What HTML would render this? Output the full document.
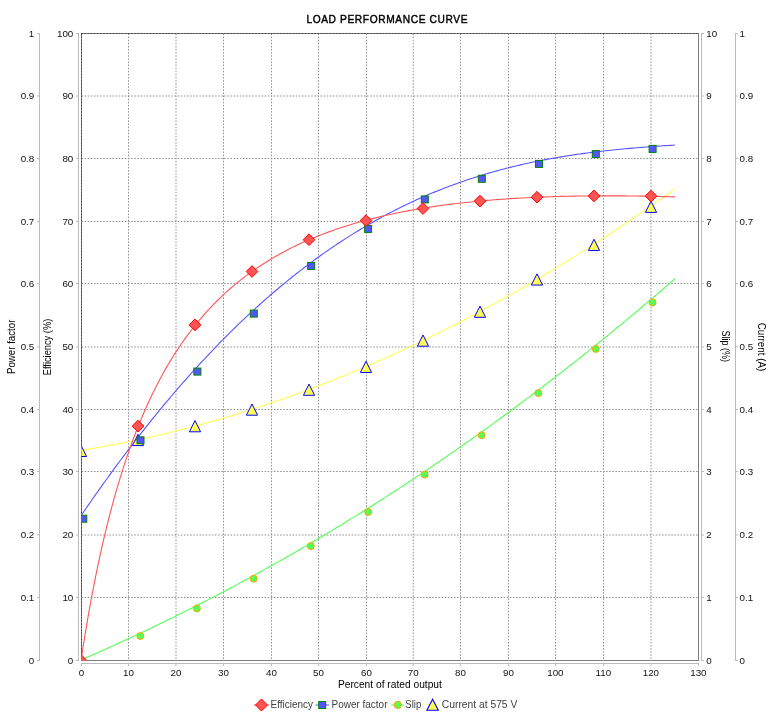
<!DOCTYPE html><html><head><meta charset="utf-8"><style>html,body{margin:0;padding:0;background:#fff;}svg{display:block;will-change:transform}</style></head><body>
<svg width="774" height="720" viewBox="0 0 774 720">
<rect width="774" height="720" fill="#fff"/>
<text transform="translate(306.4,22.9) scale(0.88,1)" x="0" y="0" font-family="Liberation Sans, sans-serif" font-weight="normal" font-size="11.6" textLength="183" lengthAdjust="spacing" fill="#000" stroke="#000" stroke-width="0.45">LOAD PERFORMANCE CURVE</text>
<rect x="81.5" y="33.5" width="617.0" height="627.0" fill="none" stroke="#808080" stroke-width="1"/>
<g stroke="#909090" stroke-width="1" stroke-dasharray="1.552 1.552"><line x1="128.50" y1="33.5" x2="128.50" y2="660.5"/><line x1="176.00" y1="33.5" x2="176.00" y2="660.5"/><line x1="223.50" y1="33.5" x2="223.50" y2="660.5"/><line x1="271.50" y1="33.5" x2="271.50" y2="660.5"/><line x1="318.50" y1="33.5" x2="318.50" y2="660.5"/><line x1="366.50" y1="33.5" x2="366.50" y2="660.5"/><line x1="413.25" y1="33.5" x2="413.25" y2="660.5"/><line x1="460.50" y1="33.5" x2="460.50" y2="660.5"/><line x1="508.50" y1="33.5" x2="508.50" y2="660.5"/><line x1="555.50" y1="33.5" x2="555.50" y2="660.5"/><line x1="603.50" y1="33.5" x2="603.50" y2="660.5"/><line x1="651.00" y1="33.5" x2="651.00" y2="660.5"/><line x1="81.5" y1="597.50" x2="698.5" y2="597.50"/><line x1="81.5" y1="535.00" x2="698.5" y2="535.00"/><line x1="81.5" y1="471.50" x2="698.5" y2="471.50"/><line x1="81.5" y1="409.50" x2="698.5" y2="409.50"/><line x1="81.5" y1="347.00" x2="698.5" y2="347.00"/><line x1="81.5" y1="283.50" x2="698.5" y2="283.50"/><line x1="81.5" y1="221.50" x2="698.5" y2="221.50"/><line x1="81.5" y1="158.50" x2="698.5" y2="158.50"/><line x1="81.5" y1="96.00" x2="698.5" y2="96.00"/></g>
<g stroke="#444" stroke-width="1" stroke-dasharray="1.552 1.552"><line x1="81.5" y1="33.5" x2="81.5" y2="660.5"/><line x1="81.5" y1="33.5" x2="698.5" y2="33.5"/></g>
<g stroke="#bbb" stroke-width="1"><line x1="39.5" y1="33" x2="39.5" y2="661"/><line x1="78.5" y1="33" x2="78.5" y2="661"/><line x1="701.5" y1="33" x2="701.5" y2="661"/><line x1="735.5" y1="33" x2="735.5" y2="661"/><line x1="81" y1="663.5" x2="699" y2="663.5"/><line x1="37" y1="660.50" x2="39.5" y2="660.50"/><line x1="76" y1="660.50" x2="78.5" y2="660.50"/><line x1="701.5" y1="660.50" x2="704" y2="660.50"/><line x1="735.5" y1="660.50" x2="738" y2="660.50"/><line x1="37" y1="597.50" x2="39.5" y2="597.50"/><line x1="76" y1="597.50" x2="78.5" y2="597.50"/><line x1="701.5" y1="597.50" x2="704" y2="597.50"/><line x1="735.5" y1="597.50" x2="738" y2="597.50"/><line x1="37" y1="535.00" x2="39.5" y2="535.00"/><line x1="76" y1="535.00" x2="78.5" y2="535.00"/><line x1="701.5" y1="535.00" x2="704" y2="535.00"/><line x1="735.5" y1="535.00" x2="738" y2="535.00"/><line x1="37" y1="471.50" x2="39.5" y2="471.50"/><line x1="76" y1="471.50" x2="78.5" y2="471.50"/><line x1="701.5" y1="471.50" x2="704" y2="471.50"/><line x1="735.5" y1="471.50" x2="738" y2="471.50"/><line x1="37" y1="409.50" x2="39.5" y2="409.50"/><line x1="76" y1="409.50" x2="78.5" y2="409.50"/><line x1="701.5" y1="409.50" x2="704" y2="409.50"/><line x1="735.5" y1="409.50" x2="738" y2="409.50"/><line x1="37" y1="347.00" x2="39.5" y2="347.00"/><line x1="76" y1="347.00" x2="78.5" y2="347.00"/><line x1="701.5" y1="347.00" x2="704" y2="347.00"/><line x1="735.5" y1="347.00" x2="738" y2="347.00"/><line x1="37" y1="283.50" x2="39.5" y2="283.50"/><line x1="76" y1="283.50" x2="78.5" y2="283.50"/><line x1="701.5" y1="283.50" x2="704" y2="283.50"/><line x1="735.5" y1="283.50" x2="738" y2="283.50"/><line x1="37" y1="221.50" x2="39.5" y2="221.50"/><line x1="76" y1="221.50" x2="78.5" y2="221.50"/><line x1="701.5" y1="221.50" x2="704" y2="221.50"/><line x1="735.5" y1="221.50" x2="738" y2="221.50"/><line x1="37" y1="158.50" x2="39.5" y2="158.50"/><line x1="76" y1="158.50" x2="78.5" y2="158.50"/><line x1="701.5" y1="158.50" x2="704" y2="158.50"/><line x1="735.5" y1="158.50" x2="738" y2="158.50"/><line x1="37" y1="96.00" x2="39.5" y2="96.00"/><line x1="76" y1="96.00" x2="78.5" y2="96.00"/><line x1="701.5" y1="96.00" x2="704" y2="96.00"/><line x1="735.5" y1="96.00" x2="738" y2="96.00"/><line x1="37" y1="33.50" x2="39.5" y2="33.50"/><line x1="76" y1="33.50" x2="78.5" y2="33.50"/><line x1="701.5" y1="33.50" x2="704" y2="33.50"/><line x1="735.5" y1="33.50" x2="738" y2="33.50"/><line x1="81.50" y1="663.5" x2="81.50" y2="666"/><line x1="128.50" y1="663.5" x2="128.50" y2="666"/><line x1="176.00" y1="663.5" x2="176.00" y2="666"/><line x1="223.50" y1="663.5" x2="223.50" y2="666"/><line x1="271.50" y1="663.5" x2="271.50" y2="666"/><line x1="318.50" y1="663.5" x2="318.50" y2="666"/><line x1="366.50" y1="663.5" x2="366.50" y2="666"/><line x1="413.25" y1="663.5" x2="413.25" y2="666"/><line x1="460.50" y1="663.5" x2="460.50" y2="666"/><line x1="508.50" y1="663.5" x2="508.50" y2="666"/><line x1="555.50" y1="663.5" x2="555.50" y2="666"/><line x1="603.50" y1="663.5" x2="603.50" y2="666"/><line x1="651.00" y1="663.5" x2="651.00" y2="666"/><line x1="698.50" y1="663.5" x2="698.50" y2="666"/></g>
<g font-family="Liberation Sans, sans-serif" font-size="9.8" fill="#111"><text x="34.3" y="663.80" text-anchor="end">0</text><text x="73.3" y="663.80" text-anchor="end">0</text><text x="706.3" y="663.80">0</text><text x="739.6" y="663.80">0</text><text x="34.3" y="600.80" text-anchor="end">0.1</text><text x="73.3" y="600.80" text-anchor="end">10</text><text x="706.3" y="600.80">1</text><text x="739.6" y="600.80">0.1</text><text x="34.3" y="538.30" text-anchor="end">0.2</text><text x="73.3" y="538.30" text-anchor="end">20</text><text x="706.3" y="538.30">2</text><text x="739.6" y="538.30">0.2</text><text x="34.3" y="474.80" text-anchor="end">0.3</text><text x="73.3" y="474.80" text-anchor="end">30</text><text x="706.3" y="474.80">3</text><text x="739.6" y="474.80">0.3</text><text x="34.3" y="412.80" text-anchor="end">0.4</text><text x="73.3" y="412.80" text-anchor="end">40</text><text x="706.3" y="412.80">4</text><text x="739.6" y="412.80">0.4</text><text x="34.3" y="350.30" text-anchor="end">0.5</text><text x="73.3" y="350.30" text-anchor="end">50</text><text x="706.3" y="350.30">5</text><text x="739.6" y="350.30">0.5</text><text x="34.3" y="286.80" text-anchor="end">0.6</text><text x="73.3" y="286.80" text-anchor="end">60</text><text x="706.3" y="286.80">6</text><text x="739.6" y="286.80">0.6</text><text x="34.3" y="224.80" text-anchor="end">0.7</text><text x="73.3" y="224.80" text-anchor="end">70</text><text x="706.3" y="224.80">7</text><text x="739.6" y="224.80">0.7</text><text x="34.3" y="161.80" text-anchor="end">0.8</text><text x="73.3" y="161.80" text-anchor="end">80</text><text x="706.3" y="161.80">8</text><text x="739.6" y="161.80">0.8</text><text x="34.3" y="99.30" text-anchor="end">0.9</text><text x="73.3" y="99.30" text-anchor="end">90</text><text x="706.3" y="99.30">9</text><text x="739.6" y="99.30">0.9</text><text x="34.3" y="36.80" text-anchor="end">1</text><text x="73.3" y="36.80" text-anchor="end">100</text><text x="706.3" y="36.80">10</text><text x="739.6" y="36.80">1</text><text x="81.40" y="675.6" text-anchor="middle">0</text><text x="128.40" y="675.6" text-anchor="middle">10</text><text x="175.90" y="675.6" text-anchor="middle">20</text><text x="223.40" y="675.6" text-anchor="middle">30</text><text x="271.40" y="675.6" text-anchor="middle">40</text><text x="318.40" y="675.6" text-anchor="middle">50</text><text x="366.40" y="675.6" text-anchor="middle">60</text><text x="413.15" y="675.6" text-anchor="middle">70</text><text x="460.40" y="675.6" text-anchor="middle">80</text><text x="508.40" y="675.6" text-anchor="middle">90</text><text x="555.40" y="675.6" text-anchor="middle">100</text><text x="603.40" y="675.6" text-anchor="middle">110</text><text x="650.90" y="675.6" text-anchor="middle">120</text><text x="698.40" y="675.6" text-anchor="middle">130</text></g>
<text x="389.9" y="688" font-family="Liberation Sans, sans-serif" font-size="10" text-anchor="middle" textLength="104" lengthAdjust="spacingAndGlyphs" fill="#000">Percent of rated output</text>
<text transform="translate(15.4,346.8) rotate(-90)" font-family="Liberation Sans, sans-serif" font-size="10" text-anchor="middle" textLength="54.5" lengthAdjust="spacingAndGlyphs" fill="#000">Power factor</text>
<text transform="translate(51.2,347) rotate(-90)" font-family="Liberation Sans, sans-serif" font-size="10" text-anchor="middle" textLength="56.5" lengthAdjust="spacingAndGlyphs" fill="#000">Efficiency (%)</text>
<text transform="translate(722,346.2) rotate(90)" font-family="Liberation Sans, sans-serif" font-size="10" text-anchor="middle" textLength="31.5" lengthAdjust="spacingAndGlyphs" fill="#000">Slip (%)</text>
<text transform="translate(758,347) rotate(90)" font-family="Liberation Sans, sans-serif" font-size="10" text-anchor="middle" textLength="48.5" lengthAdjust="spacingAndGlyphs" fill="#000">Current (A)</text>
<defs><clipPath id="pc"><rect x="81.5" y="33.5" width="617" height="627"/></clipPath></defs>
<g clip-path="url(#pc)">
<polyline points="81.00,450.39 83.38,450.01 85.75,449.62 88.13,449.23 90.50,448.83 92.88,448.43 95.26,448.02 97.63,447.61 100.01,447.19 102.38,446.76 104.76,446.33 107.14,445.90 109.51,445.46 111.89,445.01 114.26,444.56 116.64,444.10 119.02,443.64 121.39,443.17 123.77,442.70 126.14,442.22 128.52,441.74 130.89,441.25 133.27,440.76 135.65,440.26 138.02,439.76 140.40,439.25 142.77,438.73 145.15,438.21 147.53,437.68 149.90,437.15 152.28,436.62 154.65,436.07 157.03,435.53 159.41,434.97 161.78,434.42 164.16,433.85 166.53,433.28 168.91,432.71 171.29,432.13 173.66,431.55 176.04,430.96 178.41,430.36 180.79,429.76 183.17,429.15 185.54,428.54 187.92,427.93 190.29,427.31 192.67,426.68 195.05,426.05 197.42,425.41 199.80,424.76 202.17,424.12 204.55,423.46 206.93,422.80 209.30,422.14 211.68,421.47 214.05,420.79 216.43,420.11 218.81,419.43 221.18,418.73 223.56,418.04 225.93,417.34 228.31,416.63 230.68,415.92 233.06,415.20 235.44,414.47 237.81,413.75 240.19,413.01 242.56,412.27 244.94,411.53 247.32,410.78 249.69,410.02 252.07,409.26 254.44,408.50 256.82,407.73 259.20,406.95 261.57,406.17 263.95,405.38 266.32,404.59 268.70,403.79 271.08,402.99 273.45,402.18 275.83,401.36 278.20,400.54 280.58,399.72 282.96,398.89 285.33,398.05 287.71,397.21 290.08,396.37 292.46,395.52 294.84,394.66 297.21,393.80 299.59,392.93 301.96,392.06 304.34,391.18 306.72,390.29 309.09,389.41 311.47,388.51 313.84,387.61 316.22,386.71 318.59,385.80 320.97,384.88 323.35,383.96 325.72,383.04 328.10,382.10 330.47,381.17 332.85,380.23 335.23,379.28 337.60,378.33 339.98,377.37 342.35,376.40 344.73,375.44 347.11,374.46 349.48,373.48 351.86,372.50 354.23,371.51 356.61,370.51 358.99,369.51 361.36,368.51 363.74,367.49 366.11,366.48 368.49,365.45 370.87,364.43 373.24,363.39 375.62,362.36 377.99,361.31 380.37,360.26 382.75,359.21 385.12,358.15 387.50,357.09 389.87,356.02 392.25,354.94 394.63,353.86 397.00,352.77 399.38,351.68 401.75,350.59 404.13,349.48 406.51,348.38 408.88,347.26 411.26,346.15 413.63,345.02 416.01,343.89 418.38,342.76 420.76,341.62 423.14,340.47 425.51,339.32 427.89,338.17 430.26,337.01 432.64,335.84 435.02,334.67 437.39,333.49 439.77,332.31 442.14,331.12 444.52,329.93 446.90,328.73 449.27,327.53 451.65,326.32 454.02,325.11 456.40,323.89 458.78,322.66 461.15,321.43 463.53,320.20 465.90,318.96 468.28,317.71 470.66,316.46 473.03,315.20 475.41,313.94 477.78,312.67 480.16,311.40 482.54,310.12 484.91,308.84 487.29,307.55 489.66,306.25 492.04,304.95 494.42,303.65 496.79,302.34 499.17,301.02 501.54,299.70 503.92,298.38 506.30,297.05 508.67,295.71 511.05,294.37 513.42,293.02 515.80,291.67 518.17,290.31 520.55,288.94 522.93,287.58 525.30,286.20 527.68,284.82 530.05,283.44 532.43,282.05 534.81,280.65 537.18,279.25 539.56,277.84 541.93,276.43 544.31,275.02 546.69,273.59 549.06,272.17 551.44,270.73 553.81,269.29 556.19,267.85 558.57,266.40 560.94,264.95 563.32,263.49 565.69,262.02 568.07,260.55 570.45,259.08 572.82,257.60 575.20,256.11 577.57,254.62 579.95,253.12 582.33,251.62 584.70,250.11 587.08,248.60 589.45,247.08 591.83,245.56 594.21,244.03 596.58,242.49 598.96,240.95 601.33,239.41 603.71,237.86 606.08,236.30 608.46,234.74 610.84,233.18 613.21,231.60 615.59,230.03 617.96,228.45 620.34,226.86 622.72,225.26 625.09,223.67 627.47,222.06 629.84,220.45 632.22,218.84 634.60,217.22 636.97,215.59 639.35,213.96 641.72,212.33 644.10,210.69 646.48,209.04 648.85,207.39 651.23,205.73 653.60,204.07 655.98,202.40 658.36,200.73 660.73,199.05 663.11,197.37 665.48,195.68 667.86,193.98 670.24,192.29 672.61,190.58 674.99,188.87" fill="none" stroke="#ffff55" stroke-width="1.1"/>
<path d="M81.00,445.30L86.60,456.50L75.40,456.50Z" fill="#ffff55" stroke="#0000ff" stroke-width="1"/>
<path d="M138.00,434.40L143.60,445.60L132.40,445.60Z" fill="#ffff55" stroke="#0000ff" stroke-width="1"/>
<path d="M195.00,420.60L200.60,431.80L189.40,431.80Z" fill="#ffff55" stroke="#0000ff" stroke-width="1"/>
<path d="M252.00,404.00L257.60,415.20L246.40,415.20Z" fill="#ffff55" stroke="#0000ff" stroke-width="1"/>
<path d="M309.00,384.10L314.60,395.30L303.40,395.30Z" fill="#ffff55" stroke="#0000ff" stroke-width="1"/>
<path d="M366.00,361.25L371.60,372.45L360.40,372.45Z" fill="#ffff55" stroke="#0000ff" stroke-width="1"/>
<path d="M423.00,335.00L428.60,346.20L417.40,346.20Z" fill="#ffff55" stroke="#0000ff" stroke-width="1"/>
<path d="M480.00,306.10L485.60,317.30L474.40,317.30Z" fill="#ffff55" stroke="#0000ff" stroke-width="1"/>
<path d="M537.00,273.85L542.60,285.05L531.40,285.05Z" fill="#ffff55" stroke="#0000ff" stroke-width="1"/>
<path d="M594.00,239.25L599.60,250.45L588.40,250.45Z" fill="#ffff55" stroke="#0000ff" stroke-width="1"/>
<path d="M651.00,201.20L656.60,212.40L645.40,212.40Z" fill="#ffff55" stroke="#0000ff" stroke-width="1"/>
<polyline points="81.00,659.89 83.38,658.87 85.75,657.84 88.13,656.80 90.50,655.77 92.88,654.73 95.26,653.68 97.63,652.63 100.01,651.58 102.38,650.53 104.76,649.47 107.14,648.40 109.51,647.34 111.89,646.27 114.26,645.19 116.64,644.11 119.02,643.03 121.39,641.95 123.77,640.86 126.14,639.76 128.52,638.67 130.89,637.57 133.27,636.46 135.65,635.36 138.02,634.24 140.40,633.13 142.77,632.01 145.15,630.89 147.53,629.76 149.90,628.63 152.28,627.50 154.65,626.36 157.03,625.22 159.41,624.07 161.78,622.92 164.16,621.77 166.53,620.61 168.91,619.45 171.29,618.29 173.66,617.12 176.04,615.95 178.41,614.77 180.79,613.59 183.17,612.41 185.54,611.22 187.92,610.03 190.29,608.84 192.67,607.64 195.05,606.44 197.42,605.23 199.80,604.02 202.17,602.81 204.55,601.59 206.93,600.37 209.30,599.14 211.68,597.91 214.05,596.68 216.43,595.44 218.81,594.20 221.18,592.95 223.56,591.70 225.93,590.45 228.31,589.19 230.68,587.93 233.06,586.67 235.44,585.40 237.81,584.13 240.19,582.85 242.56,581.57 244.94,580.29 247.32,579.00 249.69,577.71 252.07,576.41 254.44,575.11 256.82,573.81 259.20,572.50 261.57,571.19 263.95,569.87 266.32,568.55 268.70,567.23 271.08,565.90 273.45,564.57 275.83,563.23 278.20,561.89 280.58,560.55 282.96,559.20 285.33,557.85 287.71,556.49 290.08,555.13 292.46,553.77 294.84,552.40 297.21,551.03 299.59,549.65 301.96,548.27 304.34,546.89 306.72,545.50 309.09,544.11 311.47,542.71 313.84,541.31 316.22,539.91 318.59,538.50 320.97,537.09 323.35,535.67 325.72,534.25 328.10,532.82 330.47,531.39 332.85,529.96 335.23,528.52 337.60,527.08 339.98,525.64 342.35,524.19 344.73,522.74 347.11,521.28 349.48,519.82 351.86,518.35 354.23,516.88 356.61,515.41 358.99,513.93 361.36,512.45 363.74,510.96 366.11,509.47 368.49,507.97 370.87,506.47 373.24,504.97 375.62,503.46 377.99,501.95 380.37,500.44 382.75,498.92 385.12,497.39 387.50,495.86 389.87,494.33 392.25,492.80 394.63,491.25 397.00,489.71 399.38,488.16 401.75,486.61 404.13,485.05 406.51,483.49 408.88,481.92 411.26,480.35 413.63,478.78 416.01,477.20 418.38,475.61 420.76,474.03 423.14,472.43 425.51,470.84 427.89,469.24 430.26,467.63 432.64,466.03 435.02,464.41 437.39,462.80 439.77,461.17 442.14,459.55 444.52,457.92 446.90,456.28 449.27,454.64 451.65,453.00 454.02,451.35 456.40,449.70 458.78,448.05 461.15,446.39 463.53,444.72 465.90,443.05 468.28,441.38 470.66,439.70 473.03,438.02 475.41,436.33 477.78,434.64 480.16,432.95 482.54,431.25 484.91,429.54 487.29,427.84 489.66,426.12 492.04,424.41 494.42,422.68 496.79,420.96 499.17,419.23 501.54,417.49 503.92,415.76 506.30,414.01 508.67,412.26 511.05,410.51 513.42,408.76 515.80,406.99 518.17,405.23 520.55,403.46 522.93,401.69 525.30,399.91 527.68,398.12 530.05,396.34 532.43,394.54 534.81,392.75 537.18,390.95 539.56,389.14 541.93,387.33 544.31,385.52 546.69,383.70 549.06,381.87 551.44,380.05 553.81,378.21 556.19,376.38 558.57,374.54 560.94,372.69 563.32,370.84 565.69,368.98 568.07,367.12 570.45,365.26 572.82,363.39 575.20,361.52 577.57,359.64 579.95,357.76 582.33,355.87 584.70,353.98 587.08,352.09 589.45,350.19 591.83,348.28 594.21,346.37 596.58,344.46 598.96,342.54 601.33,340.62 603.71,338.69 606.08,336.76 608.46,334.82 610.84,332.88 613.21,330.93 615.59,328.98 617.96,327.03 620.34,325.07 622.72,323.10 625.09,321.13 627.47,319.16 629.84,317.18 632.22,315.20 634.60,313.21 636.97,311.22 639.35,309.22 641.72,307.22 644.10,305.21 646.48,303.20 648.85,301.19 651.23,299.17 653.60,297.14 655.98,295.11 658.36,293.08 660.73,291.04 663.11,289.00 665.48,286.95 667.86,284.89 670.24,282.84 672.61,280.77 674.99,278.71" fill="none" stroke="#55ff55" stroke-width="1.1"/>
<circle cx="140.40" cy="636.00" r="3.5" fill="#55ff55" stroke="#ffa500" stroke-width="1"/>
<circle cx="196.90" cy="608.40" r="3.5" fill="#55ff55" stroke="#ffa500" stroke-width="1"/>
<circle cx="253.70" cy="578.70" r="3.5" fill="#55ff55" stroke="#ffa500" stroke-width="1"/>
<circle cx="310.80" cy="546.10" r="3.5" fill="#55ff55" stroke="#ffa500" stroke-width="1"/>
<circle cx="368.20" cy="512.00" r="3.5" fill="#55ff55" stroke="#ffa500" stroke-width="1"/>
<circle cx="424.70" cy="474.60" r="3.5" fill="#55ff55" stroke="#ffa500" stroke-width="1"/>
<circle cx="481.70" cy="435.20" r="3.5" fill="#55ff55" stroke="#ffa500" stroke-width="1"/>
<circle cx="538.40" cy="393.10" r="3.5" fill="#55ff55" stroke="#ffa500" stroke-width="1"/>
<circle cx="595.80" cy="348.90" r="3.5" fill="#55ff55" stroke="#ffa500" stroke-width="1"/>
<circle cx="652.60" cy="302.40" r="3.5" fill="#55ff55" stroke="#ffa500" stroke-width="1"/>
<polyline points="81.00,515.75 83.38,512.27 85.75,508.81 88.13,505.37 90.50,501.94 92.88,498.53 95.26,495.14 97.63,491.77 100.01,488.41 102.38,485.08 104.76,481.76 107.14,478.46 109.51,475.18 111.89,471.91 114.26,468.67 116.64,465.44 119.02,462.23 121.39,459.04 123.77,455.87 126.14,452.71 128.52,449.58 130.89,446.46 133.27,443.36 135.65,440.28 138.02,437.21 140.40,434.17 142.77,431.14 145.15,428.13 147.53,425.14 149.90,422.17 152.28,419.22 154.65,416.28 157.03,413.36 159.41,410.46 161.78,407.58 164.16,404.72 166.53,401.87 168.91,399.05 171.29,396.24 173.66,393.45 176.04,390.68 178.41,387.92 180.79,385.19 183.17,382.47 185.54,379.77 187.92,377.09 190.29,374.42 192.67,371.78 195.05,369.15 197.42,366.54 199.80,363.95 202.17,361.38 204.55,358.83 206.93,356.29 209.30,353.77 211.68,351.27 214.05,348.79 216.43,346.32 218.81,343.88 221.18,341.45 223.56,339.04 225.93,336.64 228.31,334.27 230.68,331.91 233.06,329.57 235.44,327.25 237.81,324.95 240.19,322.66 242.56,320.39 244.94,318.14 247.32,315.91 249.69,313.69 252.07,311.50 254.44,309.31 256.82,307.15 259.20,305.01 261.57,302.88 263.95,300.77 266.32,298.68 268.70,296.60 271.08,294.54 273.45,292.50 275.83,290.48 278.20,288.47 280.58,286.49 282.96,284.51 285.33,282.56 287.71,280.62 290.08,278.70 292.46,276.80 294.84,274.91 297.21,273.04 299.59,271.19 301.96,269.36 304.34,267.54 306.72,265.73 309.09,263.95 311.47,262.18 313.84,260.43 316.22,258.69 318.59,256.98 320.97,255.27 323.35,253.59 325.72,251.92 328.10,250.27 330.47,248.63 332.85,247.01 335.23,245.40 337.60,243.82 339.98,242.24 342.35,240.69 344.73,239.15 347.11,237.63 349.48,236.12 351.86,234.63 354.23,233.15 356.61,231.69 358.99,230.24 361.36,228.81 363.74,227.40 366.11,226.00 368.49,224.62 370.87,223.25 373.24,221.90 375.62,220.56 377.99,219.24 380.37,217.93 382.75,216.64 385.12,215.36 387.50,214.10 389.87,212.85 392.25,211.62 394.63,210.40 397.00,209.20 399.38,208.01 401.75,206.84 404.13,205.68 406.51,204.53 408.88,203.40 411.26,202.29 413.63,201.18 416.01,200.10 418.38,199.02 420.76,197.96 423.14,196.91 425.51,195.88 427.89,194.86 430.26,193.86 432.64,192.86 435.02,191.88 437.39,190.92 439.77,189.97 442.14,189.03 444.52,188.10 446.90,187.19 449.27,186.29 451.65,185.40 454.02,184.53 456.40,183.66 458.78,182.82 461.15,181.98 463.53,181.16 465.90,180.34 468.28,179.54 470.66,178.76 473.03,177.98 475.41,177.22 477.78,176.47 480.16,175.73 482.54,175.00 484.91,174.28 487.29,173.58 489.66,172.88 492.04,172.20 494.42,171.53 496.79,170.87 499.17,170.22 501.54,169.58 503.92,168.96 506.30,168.34 508.67,167.74 511.05,167.14 513.42,166.56 515.80,165.98 518.17,165.42 520.55,164.86 522.93,164.32 525.30,163.78 527.68,163.26 530.05,162.75 532.43,162.24 534.81,161.75 537.18,161.26 539.56,160.78 541.93,160.31 544.31,159.86 546.69,159.41 549.06,158.96 551.44,158.53 553.81,158.11 556.19,157.69 558.57,157.29 560.94,156.89 563.32,156.50 565.69,156.11 568.07,155.74 570.45,155.37 572.82,155.01 575.20,154.66 577.57,154.32 579.95,153.98 582.33,153.65 584.70,153.33 587.08,153.01 589.45,152.70 591.83,152.40 594.21,152.11 596.58,151.82 598.96,151.54 601.33,151.26 603.71,150.99 606.08,150.72 608.46,150.46 610.84,150.21 613.21,149.96 615.59,149.72 617.96,149.48 620.34,149.25 622.72,149.03 625.09,148.80 627.47,148.59 629.84,148.37 632.22,148.17 634.60,147.96 636.97,147.76 639.35,147.57 641.72,147.38 644.10,147.19 646.48,147.00 648.85,146.82 651.23,146.65 653.60,146.47 655.98,146.30 658.36,146.13 660.73,145.97 663.11,145.81 665.48,145.65 667.86,145.49 670.24,145.33 672.61,145.18 674.99,145.03" fill="none" stroke="#5555ff" stroke-width="1.1"/>
<rect x="79.80" y="515.20" width="7.00" height="7.00" fill="#5555ff" stroke="#008000" stroke-width="1"/>
<rect x="137.00" y="436.80" width="7.00" height="7.00" fill="#5555ff" stroke="#008000" stroke-width="1"/>
<rect x="193.90" y="368.10" width="7.00" height="7.00" fill="#5555ff" stroke="#008000" stroke-width="1"/>
<rect x="250.30" y="310.10" width="7.00" height="7.00" fill="#5555ff" stroke="#008000" stroke-width="1"/>
<rect x="307.70" y="262.50" width="7.00" height="7.00" fill="#5555ff" stroke="#008000" stroke-width="1"/>
<rect x="364.60" y="225.40" width="7.00" height="7.00" fill="#5555ff" stroke="#008000" stroke-width="1"/>
<rect x="421.30" y="195.90" width="7.00" height="7.00" fill="#5555ff" stroke="#008000" stroke-width="1"/>
<rect x="478.30" y="175.30" width="7.00" height="7.00" fill="#5555ff" stroke="#008000" stroke-width="1"/>
<rect x="535.50" y="160.40" width="7.00" height="7.00" fill="#5555ff" stroke="#008000" stroke-width="1"/>
<rect x="592.30" y="150.60" width="7.00" height="7.00" fill="#5555ff" stroke="#008000" stroke-width="1"/>
<rect x="649.10" y="145.40" width="7.00" height="7.00" fill="#5555ff" stroke="#008000" stroke-width="1"/>
<polyline points="81.00,660.50 83.38,645.09 85.75,630.42 88.13,616.46 90.50,603.15 92.88,590.45 95.26,578.31 97.63,566.71 100.01,555.61 102.38,544.97 104.76,534.78 107.14,525.00 109.51,515.61 111.89,506.59 114.26,497.91 116.64,489.57 119.02,481.54 121.39,473.80 123.77,466.34 126.14,459.15 128.52,452.21 130.89,445.51 133.27,439.04 135.65,432.79 138.02,426.74 140.40,420.89 142.77,415.23 145.15,409.75 147.53,404.44 149.90,399.30 152.28,394.31 154.65,389.48 157.03,384.79 159.41,380.24 161.78,375.82 164.16,371.53 166.53,367.36 168.91,363.31 171.29,359.38 173.66,355.55 176.04,351.83 178.41,348.21 180.79,344.69 183.17,341.26 185.54,337.92 187.92,334.67 190.29,331.51 192.67,328.42 195.05,325.42 197.42,322.49 199.80,319.63 202.17,316.85 204.55,314.13 206.93,311.48 209.30,308.90 211.68,306.38 214.05,303.91 216.43,301.51 218.81,299.16 221.18,296.87 223.56,294.63 225.93,292.45 228.31,290.31 230.68,288.22 233.06,286.18 235.44,284.19 237.81,282.24 240.19,280.33 242.56,278.47 244.94,276.65 247.32,274.87 249.69,273.12 252.07,271.42 254.44,269.75 256.82,268.12 259.20,266.52 261.57,264.96 263.95,263.42 266.32,261.93 268.70,260.46 271.08,259.03 273.45,257.62 275.83,256.24 278.20,254.90 280.58,253.58 282.96,252.28 285.33,251.02 287.71,249.78 290.08,248.56 292.46,247.37 294.84,246.20 297.21,245.06 299.59,243.94 301.96,242.85 304.34,241.77 306.72,240.72 309.09,239.69 311.47,238.67 313.84,237.68 316.22,236.71 318.59,235.76 320.97,234.82 323.35,233.91 325.72,233.01 328.10,232.13 330.47,231.27 332.85,230.43 335.23,229.60 337.60,228.79 339.98,227.99 342.35,227.21 344.73,226.44 347.11,225.69 349.48,224.96 351.86,224.24 354.23,223.53 356.61,222.84 358.99,222.16 361.36,221.50 363.74,220.84 366.11,220.20 368.49,219.58 370.87,218.96 373.24,218.36 375.62,217.77 377.99,217.19 380.37,216.62 382.75,216.07 385.12,215.52 387.50,214.99 389.87,214.47 392.25,213.96 394.63,213.45 397.00,212.96 399.38,212.48 401.75,212.01 404.13,211.55 406.51,211.09 408.88,210.65 411.26,210.22 413.63,209.79 416.01,209.38 418.38,208.97 420.76,208.57 423.14,208.18 425.51,207.80 427.89,207.42 430.26,207.06 432.64,206.70 435.02,206.35 437.39,206.01 439.77,205.67 442.14,205.34 444.52,205.02 446.90,204.71 449.27,204.41 451.65,204.11 454.02,203.81 456.40,203.53 458.78,203.25 461.15,202.98 463.53,202.71 465.90,202.45 468.28,202.20 470.66,201.96 473.03,201.72 475.41,201.48 477.78,201.25 480.16,201.03 482.54,200.81 484.91,200.60 487.29,200.40 489.66,200.20 492.04,200.00 494.42,199.81 496.79,199.63 499.17,199.45 501.54,199.28 503.92,199.11 506.30,198.94 508.67,198.79 511.05,198.63 513.42,198.48 515.80,198.34 518.17,198.20 520.55,198.06 522.93,197.93 525.30,197.81 527.68,197.69 530.05,197.57 532.43,197.46 534.81,197.35 537.18,197.24 539.56,197.14 541.93,197.05 544.31,196.96 546.69,196.87 549.06,196.78 551.44,196.70 553.81,196.63 556.19,196.55 558.57,196.49 560.94,196.42 563.32,196.36 565.69,196.30 568.07,196.25 570.45,196.20 572.82,196.15 575.20,196.11 577.57,196.07 579.95,196.03 582.33,196.00 584.70,195.96 587.08,195.94 589.45,195.91 591.83,195.89 594.21,195.88 596.58,195.86 598.96,195.85 601.33,195.84 603.71,195.84 606.08,195.83 608.46,195.83 610.84,195.84 613.21,195.84 615.59,195.85 617.96,195.86 620.34,195.88 622.72,195.89 625.09,195.91 627.47,195.94 629.84,195.96 632.22,195.99 634.60,196.02 636.97,196.05 639.35,196.09 641.72,196.13 644.10,196.17 646.48,196.21 648.85,196.25 651.23,196.30 653.60,196.35 655.98,196.40 658.36,196.46 660.73,196.52 663.11,196.58 665.48,196.64 667.86,196.70 670.24,196.77 672.61,196.83 674.99,196.90" fill="none" stroke="#ff5555" stroke-width="1.1"/>
<path d="M81.00,654.65L86.85,660.50L81.00,666.35L75.15,660.50Z" fill="#ff5555" stroke="#ff0000" stroke-width="1"/>
<path d="M138.00,420.25L143.85,426.10L138.00,431.95L132.15,426.10Z" fill="#ff5555" stroke="#ff0000" stroke-width="1"/>
<path d="M195.00,319.05L200.85,324.90L195.00,330.75L189.15,324.90Z" fill="#ff5555" stroke="#ff0000" stroke-width="1"/>
<path d="M252.00,265.65L257.85,271.50L252.00,277.35L246.15,271.50Z" fill="#ff5555" stroke="#ff0000" stroke-width="1"/>
<path d="M309.00,233.85L314.85,239.70L309.00,245.55L303.15,239.70Z" fill="#ff5555" stroke="#ff0000" stroke-width="1"/>
<path d="M366.00,214.75L371.85,220.60L366.00,226.45L360.15,220.60Z" fill="#ff5555" stroke="#ff0000" stroke-width="1"/>
<path d="M423.00,202.65L428.85,208.50L423.00,214.35L417.15,208.50Z" fill="#ff5555" stroke="#ff0000" stroke-width="1"/>
<path d="M480.00,195.25L485.85,201.10L480.00,206.95L474.15,201.10Z" fill="#ff5555" stroke="#ff0000" stroke-width="1"/>
<path d="M537.00,191.35L542.85,197.20L537.00,203.05L531.15,197.20Z" fill="#ff5555" stroke="#ff0000" stroke-width="1"/>
<path d="M594.00,190.05L599.85,195.90L594.00,201.75L588.15,195.90Z" fill="#ff5555" stroke="#ff0000" stroke-width="1"/>
<path d="M651.00,190.25L656.85,196.10L651.00,201.95L645.15,196.10Z" fill="#ff5555" stroke="#ff0000" stroke-width="1"/>
</g>
<line x1="254" y1="705" x2="269" y2="705" stroke="#ff5555" stroke-width="1"/><path d="M261.5,699L267.5,705L261.5,711L255.5,705Z" fill="#ff5555" stroke="#ff0000" stroke-width="1"/><text x="270.6" y="707.9" font-family="Liberation Sans, sans-serif" font-size="10" fill="#404040" textLength="42.5" lengthAdjust="spacingAndGlyphs">Efficiency</text><line x1="315.5" y1="705" x2="329" y2="705" stroke="#5555ff" stroke-width="1"/><rect x="318.7" y="701.5" width="7" height="7" fill="#5555ff" stroke="#008000" stroke-width="1"/><text x="331.5" y="707.9" font-family="Liberation Sans, sans-serif" font-size="10" fill="#404040" textLength="56" lengthAdjust="spacingAndGlyphs">Power factor</text><line x1="391" y1="705" x2="404" y2="705" stroke="#55ff55" stroke-width="1"/><circle cx="397.8" cy="704.9" r="3.6" fill="#55ff55" stroke="#ffa500" stroke-width="1"/><text x="405.3" y="707.9" font-family="Liberation Sans, sans-serif" font-size="10" fill="#404040" textLength="16" lengthAdjust="spacingAndGlyphs">Slip</text><line x1="426" y1="705" x2="439" y2="705" stroke="#ffff55" stroke-width="1"/><path d="M432.6,699.3L438.3,710.3L426.9,710.3Z" fill="#ffff55" stroke="#0000ff" stroke-width="1.1"/><text x="441.8" y="707.9" font-family="Liberation Sans, sans-serif" font-size="10" fill="#404040" textLength="75.5" lengthAdjust="spacingAndGlyphs">Current at 575 V</text>
</svg></body></html>
